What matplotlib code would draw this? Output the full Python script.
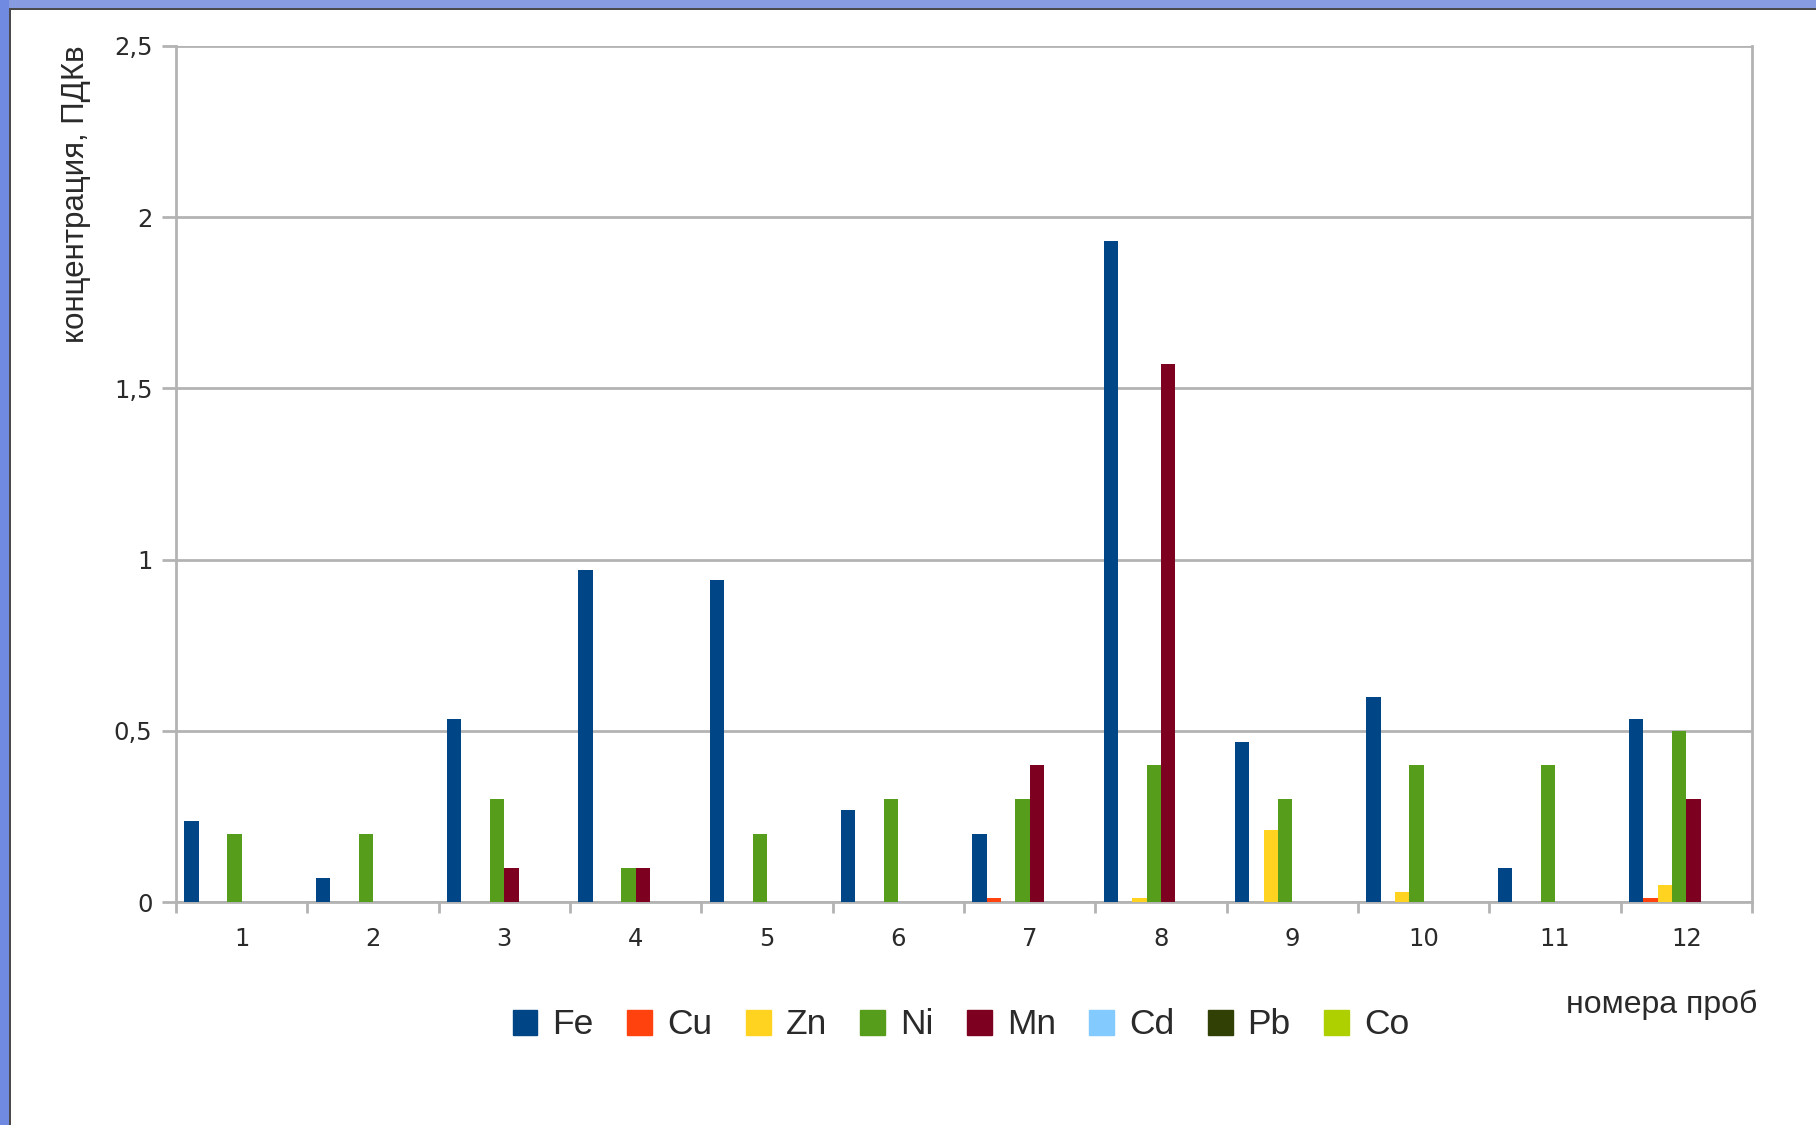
import matplotlib
matplotlib.use("Agg")
import matplotlib.pyplot as plt
import matplotlib.patches as mpatches
from matplotlib.ticker import FixedLocator, FuncFormatter
import numpy as np

# ---- data ----
samples = ["1", "2", "3", "4", "5", "6", "7", "8", "9", "10", "11", "12"]
series_names = ["Fe", "Cu", "Zn", "Ni", "Mn", "Cd", "Pb", "Co"]
fe = [0.236, 0.07, 0.534, 0.97, 0.94, 0.27, 0.20, 1.93, 0.467, 0.60, 0.10, 0.534]
cu = [0, 0, 0, 0, 0, 0, 0.012, 0, 0, 0, 0, 0.011]
zn = [0, 0, 0, 0, 0, 0, 0, 0.012, 0.21, 0.03, 0, 0.05]
ni = [0.2, 0.2, 0.3, 0.1, 0.2, 0.3, 0.3, 0.4, 0.3, 0.4, 0.4, 0.5]
mn = [0, 0, 0.1, 0.1, 0, 0, 0.4, 1.57, 0, 0, 0, 0.3]
cd = [0] * 12
pb = [0] * 12
co = [0] * 12
values = [fe, cu, zn, ni, mn, cd, pb, co]
colors = ["#004586", "#ff420e", "#ffd320", "#579d1c", "#7e0021", "#83caff", "#314004", "#aecf00"]
yticks = [0, 0.5, 1, 1.5, 2, 2.5]

W, H = 1816, 1125
fig = plt.figure(figsize=(W / 100, H / 100), dpi=100)
fig.patch.set_facecolor("white")

# blue window frame
fig.add_artist(mpatches.Rectangle((0, 1 - 8 / H), 1, 8 / H, transform=fig.transFigure,
                                  color="#879ce0", lw=0, zorder=0))
fig.add_artist(mpatches.Rectangle((0, 1 - 10 / H), 1, 2 / H, transform=fig.transFigure,
                                  color="#4a4a4a", lw=0, zorder=0))
fig.add_artist(mpatches.Rectangle((0, 0), 9 / W, 1, transform=fig.transFigure,
                                  color="#6f8ae0", lw=0, zorder=0))
fig.add_artist(mpatches.Rectangle((9 / W, 0), 2 / W, 1 - 8 / H, transform=fig.transFigure,
                                  color="#4a4a4a", lw=0, zorder=0))

left, right, top, bottom = 176, 1752, 46, 902
ax = fig.add_axes([left / W, 1 - bottom / H, (right - left) / W, (bottom - top) / H])

x = np.arange(len(samples))
bw = 0.109
for i, (name, vals, c) in enumerate(zip(series_names, values, colors)):
    ax.bar(x + (i - 3.5) * bw, vals, width=bw, color=c, label=name, zorder=3, linewidth=0)

grid_c = "#b3b3b3"
txt_c = "#2a2a2a"
ax.set_xlim(-0.5, len(samples) - 0.5)
ax.set_ylim(0, 2.5)
ax.set_yticks(yticks)
ax.yaxis.set_major_formatter(FuncFormatter(lambda v, p: ("%g" % v).replace(".", ",")))
ax.yaxis.grid(True, color=grid_c, lw=2.0, zorder=1)
for s in ["left", "right", "bottom", "top"]:
    ax.spines[s].set_color(grid_c)
    ax.spines[s].set_linewidth(2.0)
ax.spines["top"].set_visible(False)

ax.set_xticks(x)
ax.set_xticklabels(samples)
ax.xaxis.set_minor_locator(FixedLocator(np.arange(-0.5, len(samples), 1.0)))
ax.tick_params(axis="x", which="major", length=0, pad=18, labelsize=17.5, labelcolor=txt_c)
ax.tick_params(axis="x", which="minor", length=8, width=2, color=grid_c, direction="out")
ax.tick_params(axis="y", which="major", length=10, width=2, color=grid_c, pad=7,
               labelsize=17.5, labelcolor=txt_c)
for lab in ax.get_xticklabels() + ax.get_yticklabels():
    lab.set_family("DejaVu Sans")

fig.text(76 / W, 1 - 45 / H, "концентрация, ПДКв", rotation=90, ha="center", va="top",
         fontsize=22.5, family="Liberation Sans", color=txt_c)
fig.text(1757 / W, 1 - 1005 / H, "номера проб", ha="right", va="center",
         fontsize=23, family="Liberation Sans", color=txt_c)

handles = [mpatches.Patch(color=c, label=n) for n, c in zip(series_names, colors)]
leg = fig.legend(handles=handles, loc="center", bbox_to_anchor=(961 / W, 1 - 1025 / H),
                 ncol=8, frameon=False, prop={"family": "Liberation Sans", "size": 25.5},
                 handlelength=0.7, handleheight=0.7, handletextpad=0.42, columnspacing=0.95,
                 borderpad=0)
for t in leg.get_texts():
    t.set_color(txt_c)

fig.savefig("out.png", dpi=100)
